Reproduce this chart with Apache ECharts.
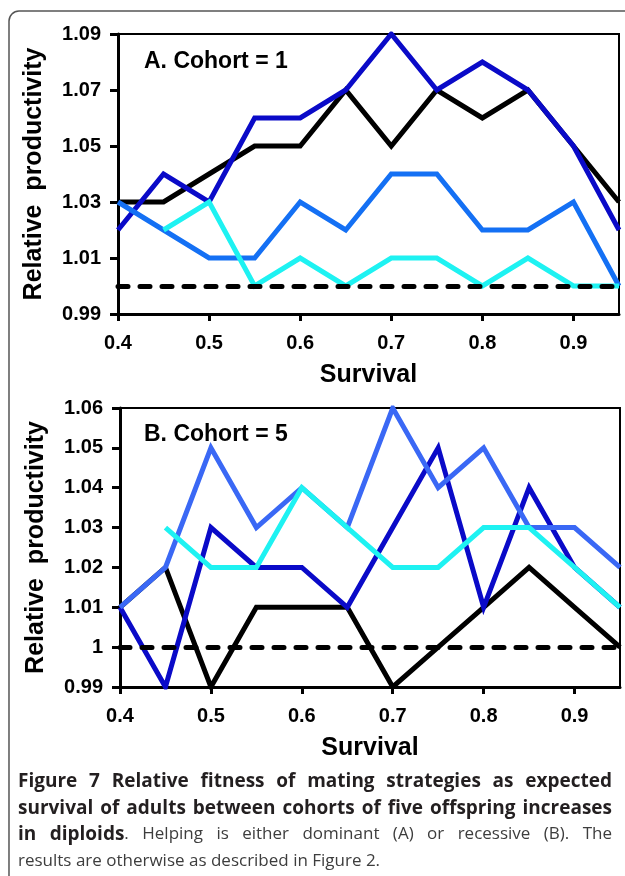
<!DOCTYPE html>
<html>
<head>
<meta charset="utf-8">
<script src="https://cdn.jsdelivr.net/npm/echarts@6/dist/echarts.min.js"></script>
<style>
  html, body { margin: 0; padding: 0; background: #fff; }
  #chart { width: 625px; height: 876px; }
</style>
</head>
<body>
<div id="chart"></div>
<script>
// survival values on the x axis
const survival = [0.4, 0.45, 0.5, 0.55, 0.6, 0.65, 0.7, 0.75, 0.8, 0.85, 0.9, 0.95];

// panel A, cohort = 1
const blackA = [1.03, 1.03, 1.04, 1.05, 1.05, 1.07, 1.05, 1.07, 1.06, 1.07, 1.05, 1.03];
const darkBlueA = [1.02, 1.04, 1.03, 1.06, 1.06, 1.07, 1.09, 1.07, 1.08, 1.07, 1.05, 1.02];
const midBlueA = [1.03, 1.02, 1.01, 1.01, 1.03, 1.02, 1.04, 1.04, 1.02, 1.02, 1.03, 1.00];
const cyanA = [null, 1.02, 1.03, 1.00, 1.01, 1.00, 1.01, 1.01, 1.00, 1.01, 1.00, 1.00];

// panel B, cohort = 5
const blackB = [1.01, 1.02, 0.99, 1.01, 1.01, 1.01, 0.99, 1.00, 1.01, 1.02, 1.01, 1.00];
const darkBlueB = [1.01, 0.99, 1.03, 1.02, 1.02, 1.01, 1.03, 1.05, 1.01, 1.04, 1.02, 1.01];
const lightBlueB = [1.01, 1.02, 1.05, 1.03, 1.04, 1.03, 1.06, 1.04, 1.05, 1.03, 1.03, 1.02];
const cyanB = [null, 1.03, 1.02, 1.02, 1.04, 1.03, 1.02, 1.02, 1.03, 1.03, 1.02, 1.01];

// tick labels
const xTicks = [0.4, 0.5, 0.6, 0.7, 0.8, 0.9];
const yTicksA = [0.99, 1.01, 1.03, 1.05, 1.07, 1.09];
const yTicksB = [0.99, 1, 1.01, 1.02, 1.03, 1.04, 1.05, 1.06];
const baseline = 1;

// caption lines: text before '|' is bold; last line is not justified
const caption = [
  'Figure 7 Relative fitness of mating strategies as expected',
  'survival of adults between cohorts of five offspring increases',
  'in diploids|. Helping is either dominant (A) or recessive (B). The',
  '|results are otherwise as described in Figure 2.'
];

const pairs = vals => survival.map((x, i) => [x, vals[i]]);

const tickFont = { fontFamily: 'Liberation Sans', fontWeight: 'bold', fontSize: 20, color: '#000' };
const nameFont = { fontFamily: 'Liberation Sans', fontWeight: 'bold', fontSize: 25, color: '#000' };

function xAxisFor(idx) {
  return {
    type: 'value', gridIndex: idx, min: 0.4, max: 0.95,
    name: 'Survival', nameLocation: 'middle', nameGap: 49, nameTextStyle: nameFont,
    axisLine: { show: true, lineStyle: { color: '#000', width: 3 } },
    axisTick: { show: true, inside: false, length: 7, lineStyle: { color: '#000', width: 3 }, customValues: xTicks },
    axisLabel: Object.assign({ margin: 19, customValues: xTicks, formatter: v => v.toFixed(1) }, tickFont),
    splitLine: { show: false }
  };
}

function yAxisFor(idx, lo, hi, ticks, fmt) {
  return {
    type: 'value', gridIndex: idx, min: lo, max: hi,
    name: 'Relative  productivity', nameLocation: 'middle', nameGap: 71, nameTextStyle: nameFont,
    axisLine: { show: true, lineStyle: { color: '#000', width: 3 } },
    axisTick: { show: true, inside: false, length: 8, lineStyle: { color: '#000', width: 3 }, customValues: ticks },
    axisLabel: Object.assign({ margin: 17, customValues: ticks, formatter: fmt }, tickFont),
    splitLine: { show: false }
  };
}

function line(vals, color, idx, extra) {
  return Object.assign({
    type: 'line', xAxisIndex: idx, yAxisIndex: idx,
    data: pairs(vals), showSymbol: false, connectNulls: false, silent: true,
    lineStyle: { color: color, width: 5, join: 'miter' },
    itemStyle: { color: color }
  }, extra || {});
}

function dashed() {
  return {
    silent: true, symbol: 'none', label: { show: false },
    lineStyle: { color: '#000', width: 5, type: [10, 12], cap: 'round' },
    data: [{ yAxis: baseline }]
  };
}

// justified caption built from word pieces
const capBold = 'bold 19px "Open Sans"';
const capReg = '17px "Open Sans"';
const measureCtx = document.createElement('canvas').getContext('2d');
function measure(t, bold) {
  measureCtx.font = bold ? capBold : capReg;
  return measureCtx.measureText(t).width;
}
function captionGraphics(left, top, width, lh) {
  const out = [];
  caption.forEach((ln, li) => {
    const cut = ln.indexOf('|');
    const boldLen = cut < 0 ? ln.length : cut;
    const plain = ln.replace('|', '');
    const words = [];
    let pos = 0;
    plain.split(' ').forEach(w => {
      const pieces = [];
      const s = pos, e = pos + w.length;
      if (s < boldLen) pieces.push([plain.slice(s, Math.min(e, boldLen)), true]);
      if (e > boldLen) pieces.push([plain.slice(Math.max(s, boldLen), e), false]);
      words.push(pieces);
      pos = e + 1;
    });
    const widths = words.map(p => p.reduce((a, q) => a + measure(q[0], q[1]), 0));
    const total = widths.reduce((a, b) => a + b, 0);
    const last = li === caption.length - 1;
    const gap = last ? measure(' ', false) : (width - total) / (words.length - 1);
    let x = left;
    words.forEach(p => {
      p.forEach(q => {
        out.push({
          type: 'text', x: x, y: top + li * lh, silent: true,
          style: {
            text: q[0], font: q[1] ? capBold : capReg,
            fill: q[1] ? '#231f20' : '#3d3d3d', textVerticalAlign: 'middle'
          }
        });
        x += measure(q[0], q[1]);
      });
      x += gap;
    });
  });
  return out;
}

const chart = echarts.init(document.getElementById('chart'), null, { renderer: 'canvas' });

chart.setOption({
  animation: false,
  backgroundColor: '#fff',
  title: [
    { text: 'A. Cohort = 1', left: 139, top: 45, textStyle: { fontFamily: 'Liberation Sans', fontWeight: 'bold', fontSize: 23, color: '#000' } },
    { text: 'B. Cohort = 5', left: 139, top: 418, textStyle: { fontFamily: 'Liberation Sans', fontWeight: 'bold', fontSize: 23, color: '#000' } }
  ],
  grid: [
    { left: 118, top: 34, right: 6, bottom: 562, show: true, borderColor: '#000', borderWidth: 2, backgroundColor: 'transparent' },
    { left: 120, top: 408, right: 5, bottom: 189, show: true, borderColor: '#000', borderWidth: 2, backgroundColor: 'transparent' }
  ],
  xAxis: [xAxisFor(0), xAxisFor(1)],
  yAxis: [
    yAxisFor(0, 0.99, 1.09, yTicksA, v => v.toFixed(2)),
    yAxisFor(1, 0.99, 1.06, yTicksB, v => (v === 1 ? '1' : v.toFixed(2)))
  ],
  series: [
    line(blackA, '#000000', 0, { markLine: dashed() }),
    line(darkBlueA, '#0a0ac8', 0),
    line(midBlueA, '#1470f4', 0),
    line(cyanA, '#1ef2f2', 0),
    line(blackB, '#000000', 1, { markLine: dashed() }),
    line(darkBlueB, '#0a0ac8', 1),
    line(lightBlueB, '#3a68f5', 1),
    line(cyanB, '#1ef2f2', 1)
  ],
  graphic: [
    {
      type: 'rect', silent: true, z: 100,
      shape: { x: 9, y: 11, width: 800, height: 1000, r: 10 },
      style: { fill: 'none', stroke: '#555', lineWidth: 1.5 }
    }
  ].concat(captionGraphics(18, 782, 594, 26.3))
});
</script>
</body>
</html>
